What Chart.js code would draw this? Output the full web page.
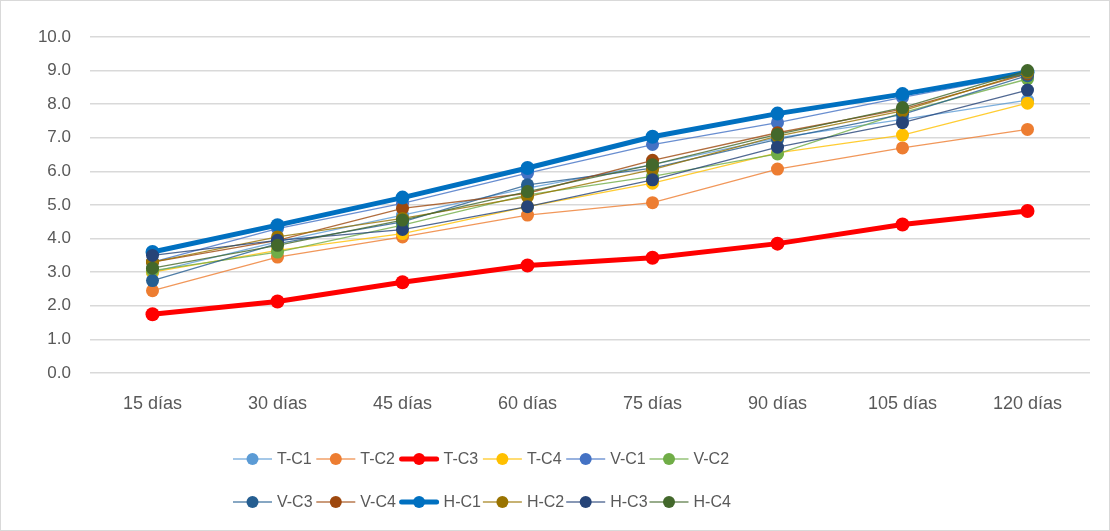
<!DOCTYPE html>
<html>
<head>
<meta charset="utf-8">
<script src="https://cdn.jsdelivr.net/npm/chart.js@4.4.1/dist/chart.umd.min.js"></script>
<style>
  html, body { margin: 0; padding: 0; background: #fff; }
  #wrap { position: relative; width: 1110px; height: 531px; }
  #frame { position: absolute; left: 0; top: 0; width: 1110px; height: 531px; box-sizing: border-box; border: 1px solid #d9d9d9; pointer-events: none; }
</style>
</head>
<body>
<div id="wrap">
  <canvas id="chartCanvas" width="1110" height="531"></canvas>
  <div id="frame"></div>
</div>
<script>
// categories (días)
const categories = ["15 días", "30 días", "45 días", "60 días", "75 días", "90 días", "105 días", "120 días"];

// series values
const tC1 = [3.00, 3.90, 4.70, 5.50, 6.20, 7.00, 7.55, 8.12];
const tC2 = [2.45, 3.45, 4.05, 4.70, 5.07, 6.07, 6.70, 7.25];
const tC3 = [1.75, 2.13, 2.70, 3.20, 3.43, 3.85, 4.42, 4.82];
const tC4 = [3.00, 3.65, 4.15, 4.95, 5.65, 6.55, 7.08, 8.03];
const vC1 = [3.30, 4.30, 5.05, 5.95, 6.80, 7.45, 8.20, 8.90];
const vC2 = [3.05, 3.60, 4.40, 5.30, 5.85, 6.52, 7.75, 8.75];
const vC3 = [2.75, 3.85, 4.50, 5.60, 6.10, 6.95, 7.70, 8.85];
const vC4 = [3.30, 3.95, 4.90, 5.35, 6.33, 7.15, 7.85, 8.90];
const hC1 = [3.60, 4.40, 5.22, 6.10, 7.03, 7.72, 8.30, 8.95];
const hC2 = [3.30, 4.05, 4.60, 5.25, 6.05, 7.05, 7.80, 8.95];
const hC3 = [3.50, 3.95, 4.27, 4.95, 5.75, 6.72, 7.45, 8.42];
const hC4 = [3.12, 3.80, 4.55, 5.40, 6.20, 7.10, 7.90, 9.00];

const seriesNames = ["T-C1", "T-C2", "T-C3", "T-C4", "V-C1", "V-C2", "V-C3", "V-C4", "H-C1", "H-C2", "H-C3", "H-C4"];
const seriesData = [tC1, tC2, tC3, tC4, vC1, vC2, vC3, vC4, hC1, hC2, hC3, hC4];
const seriesColors = ["#5B9BD5", "#ED7D31", "#FF0000", "#FFC000", "#4472C4", "#70AD47",
                      "#255E91", "#9E480E", "#0070C0", "#997300", "#264478", "#43682B"];
const thickSeries = ["T-C3", "H-C1"];

const FONT = '"Liberation Sans", Arial, sans-serif';
const TEXT_COLOR = "#595959";

function fade(hex, a) {
    const n = parseInt(hex.slice(1), 16);
    return `rgba(${(n >> 16) & 255}, ${(n >> 8) & 255}, ${n & 255}, ${a})`;
}

const datasets = seriesNames.map((name, i) => {
    const thick = thickSeries.includes(name);
    return {
        label: name,
        data: seriesData[i],
        borderColor: thick ? seriesColors[i] : fade(seriesColors[i], 0.8),
        backgroundColor: seriesColors[i],
        borderWidth: thick ? 5 : 1.3,
        pointRadius: thick ? 7 : 6.5,
        pointBorderWidth: 0,
        pointBackgroundColor: seriesColors[i],
        tension: 0,
        fill: false,
        // later series drawn on top, like the original
        order: seriesNames.length - i
    };
});

/* ----------------------------------------
   LEGEND (line + marker samples, 2 rows)
---------------------------------------- */
const legendPlugin = {
    id: "lineLegend",
    afterDraw(chart) {
        const ctx = chart.ctx;
        const perRow = 6;
        const startX = 233;
        const pitch = 83.3;
        const rowY = [459, 502];
        ctx.save();
        ctx.font = `16px ${FONT}`;
        ctx.textBaseline = "middle";
        ctx.textAlign = "left";
        chart.data.datasets.forEach((ds, i) => {
            const x = startX + (i % perRow) * pitch;
            const y = rowY[Math.floor(i / perRow)];
            const thick = ds.borderWidth > 2;
            ctx.strokeStyle = thick ? ds.backgroundColor : fade(ds.backgroundColor, 0.55);
            ctx.lineWidth = thick ? 5 : 2;
            ctx.lineCap = thick ? "round" : "butt";
            ctx.beginPath();
            ctx.moveTo(x + (thick ? 2 : 0), y);
            ctx.lineTo(x + 39 - (thick ? 2 : 0), y);
            ctx.stroke();
            ctx.fillStyle = ds.backgroundColor;
            ctx.beginPath();
            ctx.arc(x + 19.5, y, 6, 0, Math.PI * 2);
            ctx.fill();
            ctx.fillStyle = TEXT_COLOR;
            ctx.fillText(ds.label, x + 44, y + 1);
        });
        ctx.restore();
    }
};

const ctx = document.getElementById("chartCanvas").getContext("2d");
new Chart(ctx, {
    type: "line",
    data: { labels: categories, datasets: datasets },
    options: {
        responsive: false,
        animation: false,
        layout: { padding: { top: 37, right: 20, bottom: 113, left: 0 } },
        plugins: {
            legend: { display: false },
            tooltip: { enabled: false }
        },
        scales: {
            x: {
                offset: true,
                grid: { display: false, drawTicks: false },
                border: { display: false },
                ticks: { color: TEXT_COLOR, font: { family: FONT, size: 18 }, padding: 20 },
                afterFit: (scale) => { scale.height = 45; }
            },
            y: {
                min: 0,
                max: 10,
                ticks: {
                    stepSize: 1,
                    color: TEXT_COLOR,
                    font: { family: FONT, size: 17 },
                    padding: 19,
                    callback: (v) => v.toFixed(1)
                },
                grid: { color: "#d9d9d9", lineWidth: 1.5, drawTicks: false },
                border: { display: false },
                afterFit: (scale) => { scale.width = 90; }
            }
        }
    },
    plugins: [legendPlugin]
});
</script>
</body>
</html>
